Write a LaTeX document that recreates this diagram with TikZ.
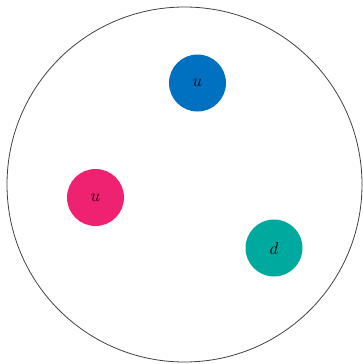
\documentclass[tikz,border=0pt]{standalone}
\begin{document}
\begin{tikzpicture}[x=1pt,y=-1pt,
  quark/.style={circle,draw=none,minimum size=57pt,inner sep=0pt,font=\fontsize{17}{20}\selectfont},
  bag/.style={circle,draw=black!75,line width=0.8pt,minimum size=355pt,inner sep=0pt}]
\definecolor{qblue}{RGB}{0,112,192}
\definecolor{qpink}{RGB}{238,34,112}
\definecolor{qteal}{RGB}{0,169,157}
\useasboundingbox (0,0) rectangle (363,364);
\node[bag] (hadron) at (184.5,184.5) {};
\node[quark,fill=qblue] (u1) at (197.5,83) {$u$};
\node[quark,fill=qpink] (u2) at (95.5,197.5) {$u$};
\node[quark,fill=qteal] (d) at (274,248) {$d$};
\end{tikzpicture}
\end{document}
